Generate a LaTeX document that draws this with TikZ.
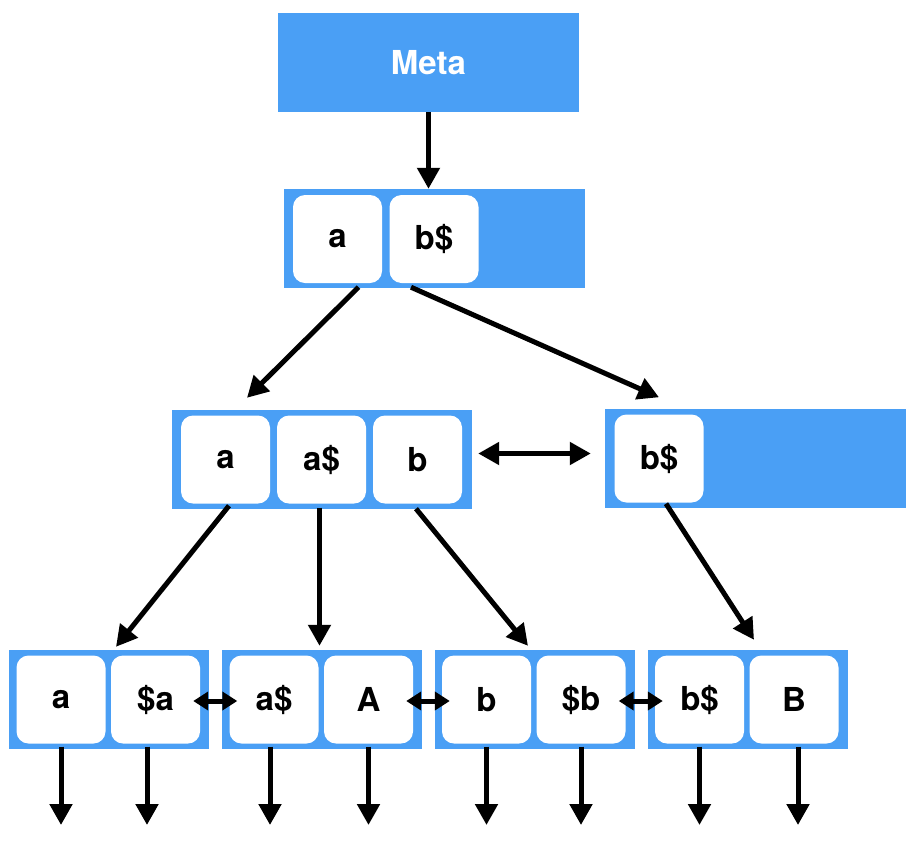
\documentclass[tikz,border=0pt]{standalone}
\usepackage{fontspec}
\setmainfont{TeX Gyre Heros}
\usepackage{tikz}
\usetikzlibrary{arrows.meta,positioning,calc}
\definecolor{keyblue}{RGB}{74,159,245}

\begin{document}
\begin{tikzpicture}[x=1pt, y=-1pt,
  block/.style={fill=keyblue, inner sep=0pt, minimum height=99pt},
  cell/.style={fill=white, rounded corners=12pt, minimum width=89pt, minimum height=88pt,
              inner sep=0pt, font=\fontsize{33}{40}\selectfont\bfseries},
  arrow/.style={-{Triangle[length=21pt,width=22pt]}, line width=5pt},
  darrow/.style={{Triangle[length=21pt,width=22pt]}-{Triangle[length=21pt,width=22pt]}, line width=5pt},
  sarrow/.style={{Triangle[length=15pt,width=18pt]}-{Triangle[length=15pt,width=18pt]}, line width=5pt},
]
\useasboundingbox (0,0) rectangle (918,841);

% Row 0: meta page
\node[block, minimum width=301pt, text=white, font=\fontsize{33}{40}\selectfont\bfseries] (meta) at (428.5,62.5) {Meta};

% Row 1: root
\node[block, minimum width=301pt] (root) at (434.5,238.5) {};
\node[cell] (ra) at (337.5,239) {a};
\node[cell] (rb) at (434,239) {b\$};

% Row 2: inner nodes
\node[block, minimum width=300pt] (la) at (322,459.5) {};
\node[cell] (laa) at (225.5,459.5) {a};
\node[cell] (lab) at (321.5,459.5) {a\$};
\node[cell] (lac) at (417.5,459.5) {b};
\node[block, minimum width=301pt] (lb) at (755.5,458.5) {};
\node[cell] (lba) at (659,458.5) {b\$};

% Row 3: leaves
\foreach \n/\x/\u/\v in {pa/109/a/\$a, pb/322/a\$/A, pc/534.5/b/\$b, pd/747.5/b\$/B} {
  \node[block, minimum width=200pt] (\n) at (\x,699.5) {};
  \node[cell] (\n1) at (\x-48,699.5) {\u};
  \node[cell] (\n2) at (\x+46.5,699.5) {\v};
}
\coordinate (floor) at (0,825);

\draw[arrow] (meta.south) -- (meta.south |- root.north);
\draw[arrow] ($(ra.south)+(21,4)$) -- ($(la.north)+(-75,-12)$);
\draw[arrow] ($(rb.south)+(-23,4)$) -- ($(lba.north)+(0,-17)$);
\draw[darrow] ($(lac.east)+(16,-6)$) -- ($(lb.west)+(-14,-5)$);

\draw[arrow] ($(laa.south)+(3.5,2)$) -- ($(pa.north)+(7,-3)$);
\draw[arrow] ($(lab.south)+(-2,4)$) -- ($(lab.south |- pb.north)+(-2,-4)$);
\draw[arrow] ($(lac.south)+(-1.5,5)$) -- ($(pc.north)+(-6.5,-4)$);
\draw[arrow] ($(lba.south)+(7,1)$) -- ($(pd.north)+(6.5,-10)$);

\foreach \a/\b in {pa2/pb1, pb2/pc1, pc2/pd1}
  \draw[sarrow] ($(\a.east)+(-7,1.5)$) -- ($(\b.west)+(8,1.5)$);

\foreach \c/\dx in {pa1/0, pa2/-8.5, pb1/-4, pb2/0, pc1/0, pc2/0, pd1/0, pd2/4}
  \draw[arrow] ($(\c.south)+(\dx,3)$) -- ($(\c.south |- floor)+(\dx,0)$);
\end{tikzpicture}
\end{document}
